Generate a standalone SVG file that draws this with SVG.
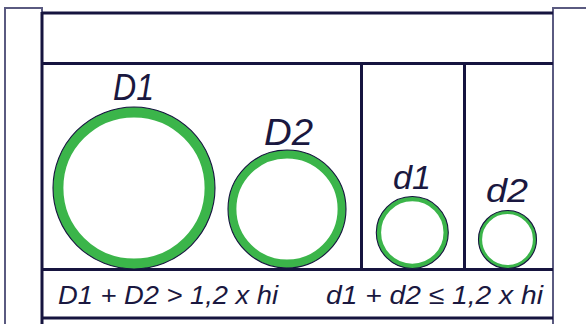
<svg xmlns="http://www.w3.org/2000/svg" width="586" height="324" viewBox="0 0 586 324">
<style>
.post{fill:#fff;stroke:#5a5a80;stroke-width:2}
.ln{stroke:#16143f;stroke-width:3;fill:none}
.ring{fill:#fff;stroke:#3bb54a}
.edge{fill:none;stroke:#16143f;stroke-width:1.1}
.lbl{font-family:"Liberation Sans",Arial,sans-serif;font-style:italic;fill:#1a1840}
</style>
<rect width="586" height="324" fill="#fff"/>
<g id="posts">
<rect class="post" x="5" y="8" width="37" height="330"/>
<rect class="post" x="553" y="8" width="50" height="330"/>
</g>
<g id="frame">
<line class="ln" x1="42" y1="13" x2="553" y2="13"/>
<line class="ln" x1="42" y1="63.5" x2="553" y2="63.5"/>
<line class="ln" x1="42" y1="269.5" x2="553" y2="269.5"/>
<line class="ln" x1="42" y1="318" x2="553" y2="318"/>
<line class="ln" x1="42" y1="12" x2="42" y2="324"/>
<line class="ln" x1="361.5" y1="63" x2="361.5" y2="270"/>
<line class="ln" x1="464.5" y1="63" x2="464.5" y2="270"/>
</g>
<g id="D1">
<circle class="ring" cx="134" cy="188" r="75.8" stroke-width="10.4"/>
<circle class="edge" cx="134" cy="188" r="81"/>
<text class="lbl" x="113" y="100" font-size="37" textLength="41" lengthAdjust="spacingAndGlyphs">D1</text>
</g>
<g id="D2">
<circle class="ring" cx="287" cy="209" r="54.8" stroke-width="8.4"/>
<circle class="edge" cx="287" cy="209" r="59"/>
<text class="lbl" x="264" y="145" font-size="37" textLength="49" lengthAdjust="spacingAndGlyphs">D2</text>
</g>
<g id="d1">
<circle class="ring" cx="412.3" cy="232.5" r="33.6" stroke-width="4.8"/>
<circle class="edge" cx="412.3" cy="232.5" r="36"/>
<text class="lbl" x="393" y="189" font-size="34" textLength="38" lengthAdjust="spacingAndGlyphs">d1</text>
</g>
<g id="d2">
<circle class="ring" cx="507.5" cy="239.5" r="27.2" stroke-width="3.6"/>
<circle class="edge" cx="507.5" cy="239.5" r="29"/>
<text class="lbl" x="486" y="202" font-size="34" textLength="42" lengthAdjust="spacingAndGlyphs">d2</text>
</g>
<g id="formulas">
<text class="lbl" x="58" y="304" font-size="26" textLength="220" lengthAdjust="spacingAndGlyphs">D1 + D2 &gt; 1,2 x hi</text>
<text class="lbl" x="326" y="304" font-size="26" textLength="217" lengthAdjust="spacingAndGlyphs">d1 + d2 ≤ 1,2 x hi</text>
</g>
</svg>
